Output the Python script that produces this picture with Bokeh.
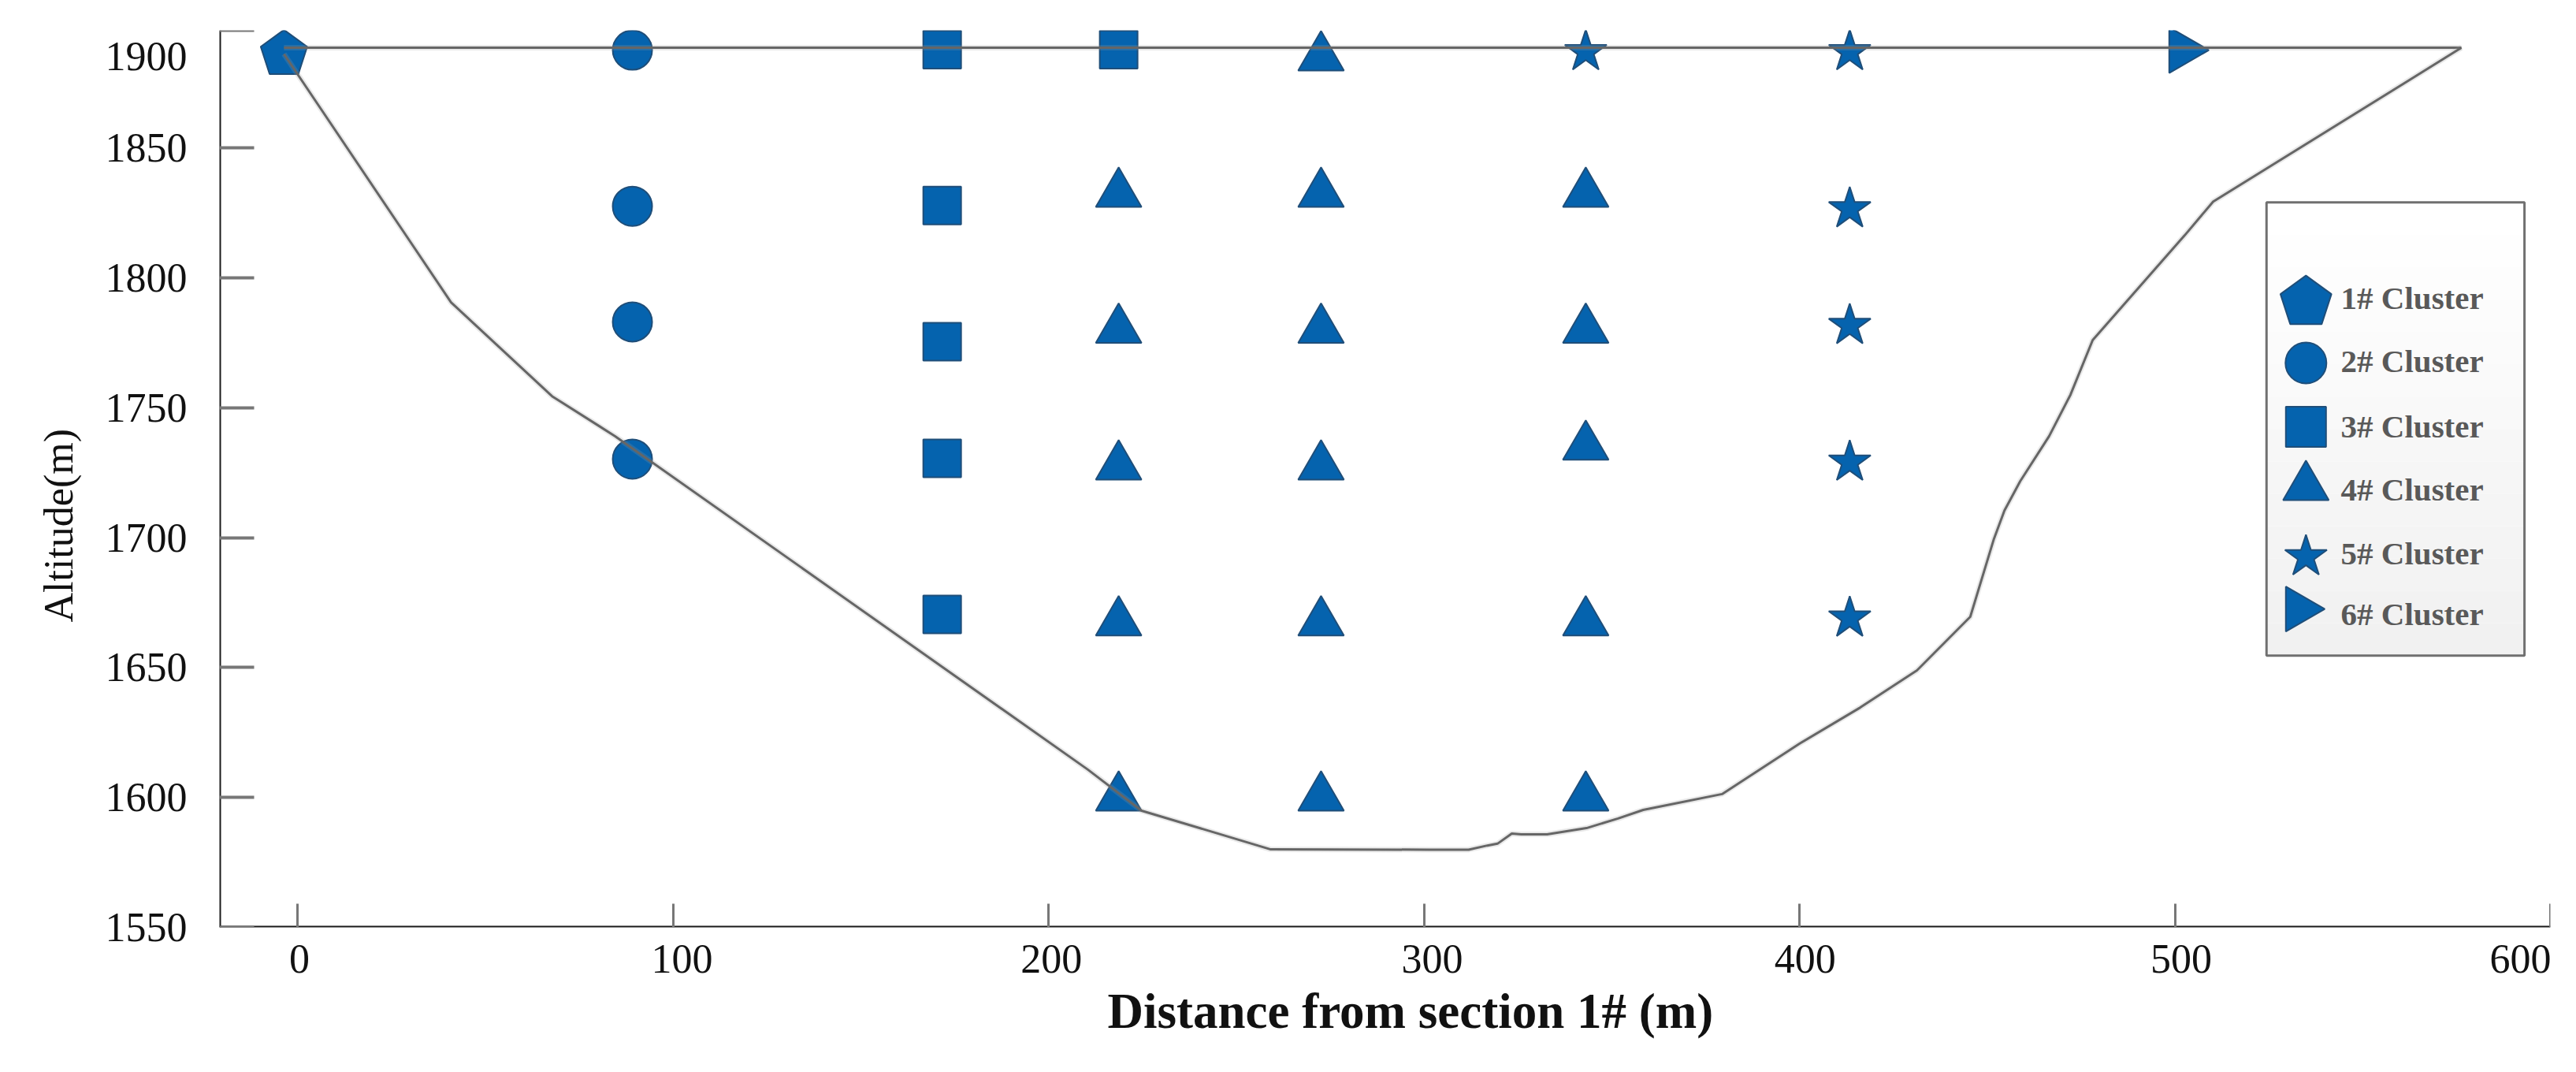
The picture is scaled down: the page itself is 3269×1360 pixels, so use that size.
from bokeh.embed import file_html
from bokeh.resources import INLINE
from bokeh.plotting import figure
from bokeh.models import FixedTicker, LinearAxis, Title, Range1d
import numpy as np

# ---- data ----
# Cluster points (distance m, altitude on the axis' evenly spaced scale).
# The source's top row and its "1900"/"600" labels sit off the even tick spacing,
# so the top row reads about 1888 on that scale although it is labelled 1900.
cluster1_x = [-3.6]
cluster1_y = [1886.0]
cluster2_x = [89.2, 89.2, 89.2, 89.2]
cluster2_y = [1887.6, 1827.5, 1783.0, 1730.2]
cluster3_x = [171.7, 218.7, 171.7, 171.7, 171.7, 171.7]
cluster3_y = [1887.8, 1887.8, 1827.8, 1775.4, 1730.5, 1670.4]
cluster4_x = [272.6, 218.7, 272.6, 343.1, 218.7, 272.6, 343.1, 218.7,
              272.6, 343.1, 218.7, 272.6, 343.1, 218.7, 272.6, 343.1]
cluster4_y = [1884.8, 1832.3, 1832.3, 1832.3, 1780.0, 1780.0, 1780.0, 1727.4,
              1727.4, 1735.0, 1667.4, 1667.4, 1667.4, 1600.0, 1600.0, 1600.0]
cluster5_x = [343.1, 413.4, 413.4, 413.4, 413.4, 413.4]
cluster5_y = [1887.0, 1887.0, 1826.5, 1781.6, 1729.0, 1669.0]
cluster6_x = [502.0]
cluster6_y = [1887.6]

terrain_x = [-3.6, 40.9, 67.8, 84.6, 210.5, 224.8, 259.2, 301.4, 311.9, 316.9, 319.6, 323.4,
             325.9, 332.8, 343.3, 351.7, 358.4, 379.4, 400.0, 416.2, 431.3, 445.5, 451.8,
             454.6, 458.8, 466.5, 472.2, 478.1, 502.6, 510.2, 576.3]
terrain_y = [1886.1, 1790.5, 1754.4, 1739.0, 1610.7, 1594.9, 1580.0, 1579.9, 1579.9, 1581.5,
             1582.2, 1586.1, 1585.8, 1585.8, 1588.2, 1591.9, 1595.2, 1601.3, 1620.7, 1634.6,
             1648.9, 1669.5, 1699.5, 1710.4, 1721.7, 1739.0, 1755.0, 1776.0, 1816.3, 1829.3,
             1888.5]
crest_x = [-3.6, 576.3]
crest_y = [1888.5, 1888.5]

x_ticks = [0, 100, 200, 300, 400, 500, 600]
y_ticks = [1550, 1600, 1650, 1700, 1750, 1800, 1850, 1895.2]
x_tick_labels = ["0", "100", "200", "300", "400", "500", "600"]
y_tick_labels = ["1550", "1600", "1650", "1700", "1750", "1800", "1850", "1900"]
legend_labels = ["1# Cluster", "2# Cluster", "3# Cluster", "4# Cluster", "5# Cluster", "6# Cluster"]

# ---- where labels and legend sit, in data units ----
x_label_at = [0.5, 102.4, 200.8, 302.2, 401.5, 501.7, 592.0]
y_label_at = [1550, 1600, 1650, 1700, 1750, 1800, 1850, 1885.2]
legend_marker_x = 534.9
legend_tri_x = 533.0
legend_marker_y = [1790.5, 1767.2, 1742.6, 1719.5, 1692.6, 1672.5]
legend_text_x = 544.2
legend_text_y = [1792.3, 1767.8, 1742.9, 1718.6, 1694.0, 1670.7]
legend_box = (524.4, 593.1, 1654.6, 1829.0)

X_RANGE = (-20.78, 600.0)
Y_RANGE = (1550.0, 1895.2)

BLUE = "#0563ae"
EDGE = "#1f4e79"
SERIF = "Liberation Serif"

p = figure(width=3269, height=1360, output_backend="svg", toolbar_location=None,
           x_range=Range1d(*X_RANGE), y_range=Range1d(*Y_RANGE),
           min_border_left=278, min_border_right=33, min_border_top=38, min_border_bottom=184,
           background_fill_color="white", border_fill_color="white")
p.grid.visible = False
p.outline_line_color = None

# Label-only axes.
xa = p.xaxis[0]
xa.ticker = FixedTicker(ticks=x_label_at)
xa.major_label_overrides = dict(zip(x_label_at, x_tick_labels))
ya = p.yaxis[0]
ya.ticker = FixedTicker(ticks=y_label_at)
ya.major_label_overrides = dict(zip(y_label_at, y_tick_labels))
for a in (xa, ya):
    a.axis_line_color = None
    a.major_tick_line_color = None
    a.minor_tick_line_color = None
    a.major_tick_in = 0
    a.major_tick_out = 0
    a.major_label_text_font = SERIF
    a.major_label_text_font_size = "52px"
    a.major_label_text_color = "#111111"
xa.major_label_standoff = 22
ya.major_label_standoff = 41

# Tick-mark axes, fixed on the frame edges.
xt = LinearAxis(fixed_location=Y_RANGE[0], ticker=FixedTicker(ticks=x_ticks),
                major_label_overrides={t: "" for t in x_ticks},
                major_tick_in=30, major_tick_out=0, minor_tick_line_color=None,
                axis_line_color="#1a1a1a", axis_line_width=4,
                major_tick_line_color="#777777", major_tick_line_width=3)
yt = LinearAxis(fixed_location=X_RANGE[0], ticker=FixedTicker(ticks=y_ticks),
                major_label_overrides={t: "" for t in y_ticks},
                major_tick_in=44, major_tick_out=0, minor_tick_line_color=None,
                axis_line_color="#1a1a1a", axis_line_width=4,
                major_tick_line_color="#777777", major_tick_line_width=4)
p.add_layout(xt, "below")
p.add_layout(yt, "left")

# Legend panel with its faint top-to-bottom gradient.
bl, br, bb, bt = legend_box
edges = np.linspace(bt, bb, 15)
for i in range(14):
    g = int(round(255 - 14 * i / 13))
    p.quad(left=[bl], right=[br], top=[edges[i]], bottom=[edges[i + 1]],
           fill_color=f"#{g:02x}{g:02x}{g:02x}", line_color=None)
p.quad(left=[bl], right=[br], top=[bt], bottom=[bb], fill_color=None,
       line_color="#707070", line_width=3)

mk = dict(fill_color=BLUE, line_color=EDGE, line_width=2)

# Points.
p.ngon(x=cluster1_x, y=cluster1_y, radius=31, radius_units="screen", n=5, **mk)
p.scatter(cluster2_x, cluster2_y, marker="circle", size=50, **mk)
p.scatter(cluster3_x, cluster3_y, marker="square", size=48, **mk)
p.scatter(cluster4_x, cluster4_y, marker="triangle", size=58, **mk)
p.scatter(cluster5_x, cluster5_y, marker="star", size=56, **mk)
p.scatter(cluster6_x, cluster6_y, marker="triangle", size=58, angle=-np.pi / 2, **mk)

# Profile lines on top of the markers, with a soft halo for the source's shadow.
for xs, ys in ((crest_x, crest_y), (terrain_x, terrain_y)):
    p.line(xs, ys, line_color="#999999", line_width=7, line_alpha=0.22)
    p.line(xs, ys, line_color="#666666", line_width=3)

# Legend entries.
mx, my = legend_marker_x, legend_marker_y
p.ngon(x=[mx], y=[my[0]], radius=34, radius_units="screen", n=5, **mk)
p.scatter([mx], [my[1]], marker="circle", size=52, **mk)
p.scatter([mx], [my[2]], marker="square", size=51, **mk)
p.scatter([mx], [my[3]], marker="triangle", size=58, **mk)
p.scatter([mx], [my[4]], marker="star", size=56, **mk)
p.scatter([legend_tri_x], [my[5]], marker="triangle", size=57, angle=-np.pi / 2, **mk)
p.text(x=[legend_text_x] * 6, y=legend_text_y, text=legend_labels,
       text_font=SERIF, text_font_style="bold", text_font_size="41px",
       text_color="#595959", text_baseline="middle", text_align="left")

# Axis titles, placed where the source has them.
p.add_layout(Title(text="Distance from section 1# (m)", align="left", offset=1127, standoff=19,
                   text_font=SERIF, text_font_style="bold", text_font_size="63px",
                   text_color="#111111"), "below")
p.add_layout(Title(text="Altitude(m)", align="left", offset=387, standoff=55,
                   text_font=SERIF, text_font_style="normal", text_font_size="52px",
                   text_color="#111111"), "left")

open("out.html", "w").write(file_html(p, INLINE))
